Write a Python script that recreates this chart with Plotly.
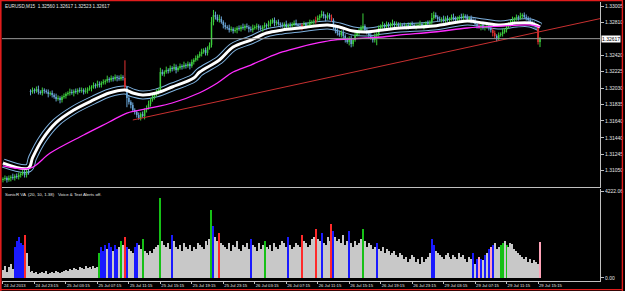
import plotly.graph_objects as go

W, H = 625, 291
BASE = 1.30000
PT = 0.00001

# ---------------- data (prices in points above 1.30000) ----------------
closes_pts = [
    950, 962, 938, 962, 974, 962, 986, 974, 998, 1010,
    1034, 998, 1046, 1022, 1984, 2007, 1995, 2019, 1984, 1972,
    2007, 1995, 1984, 1960, 1972, 1948, 1924, 1901, 1913, 1889,
    1924, 1936, 1960, 1972, 1984, 1972, 1995, 1984, 2007, 1995,
    2007, 1984, 1995, 2019, 2031, 2043, 2067, 2055, 2079, 2067,
    2091, 2103, 2114, 2138, 2126, 2150, 2138, 2162, 2150, 2138,
    2162, 2150, 2043, 1913, 1865, 1829, 1770, 1746, 1710, 1675,
    1722, 1698, 1770, 1794, 1841, 1889, 1924, 1948, 1984, 2007,
    2221, 2197, 2221, 2245, 2233, 2269, 2257, 2280, 2245, 2269,
    2292, 2280, 2304, 2292, 2316, 2292, 2340, 2364, 2387, 2411,
    2435, 2458, 2482, 2447, 2506, 2542, 2815, 2898, 2874, 2839,
    2851, 2815, 2779, 2756, 2744, 2720, 2732, 2708, 2720, 2744,
    2732, 2756, 2744, 2767, 2756, 2732, 2720, 2744, 2756, 2767,
    2744, 2732, 2756, 2779, 2767, 2791, 2815, 2839, 2803, 2815,
    2791, 2779, 2767, 2791, 2756, 2779, 2767, 2791, 2803, 2779,
    2767, 2756, 2779, 2791, 2767, 2779, 2803, 2815, 2815, 2839,
    2862, 2886, 2910, 2886, 2862, 2898, 2874, 2839, 2756, 2720,
    2684, 2661, 2696, 2649, 2601, 2577, 2625, 2554, 2601, 2661,
    2684, 2720, 2744, 2767, 2720, 2696, 2661, 2625, 2601, 2649,
    2672, 2744, 2767, 2779, 2756, 2791, 2767, 2779, 2803, 2779,
    2791, 2767, 2779, 2767, 2756, 2779, 2767, 2791, 2779, 2756,
    2767, 2779, 2791, 2767, 2779, 2803, 2791, 2815, 2862, 2898,
    2874, 2851, 2839, 2851, 2827, 2862, 2839, 2851, 2874, 2862,
    2839, 2851, 2874, 2862, 2886, 2874, 2851, 2862, 2839, 2827,
    2791, 2767, 2756, 2779, 2744, 2756, 2767, 2744, 2720, 2684,
    2649, 2625, 2661, 2672, 2696, 2720, 2756, 2791, 2815, 2839,
    2851, 2874, 2862, 2886, 2898, 2874, 2862, 2839, 2815, 2791,
    2767, 2756, 2577, 2617,
]
# upper / lower shadows in units of 10 points
wick_up = [
    2, 3, 2, 3, 2, 4, 2, 3, 3, 2,  3, 4, 2, 3, 2, 3, 2, 3, 4, 2,
    3, 2, 2, 3, 2, 3, 2, 4, 3, 2,  2, 3, 2, 2, 4, 3, 2, 3, 2, 3,
    3, 2, 4, 2, 3, 2, 3, 2, 4, 3,  2, 3, 2, 4, 2, 3, 2, 3, 2, 3,
    3, 2, 21, 1, 3, 2, 3, 2, 2, 3,  2, 3, 2, 3, 4, 2, 3, 2, 3, 2,
    5, 3, 2, 4, 2, 3, 2, 4, 3, 2,  3, 2, 4, 2, 3, 2, 3, 2, 3, 2,
    3, 4, 2, 3, 2, 3, 6, 6, 4, 3,  5, 3, 2, 3, 2, 4, 3, 2, 3, 2,
    3, 2, 4, 2, 3, 2, 3, 4, 2, 3,  2, 3, 2, 3, 2, 4, 3, 2, 3, 2,
    3, 2, 3, 2, 4, 2, 3, 2, 3, 4,  2, 3, 2, 3, 2, 3, 4, 2, 3, 4,
    3, 2, 4, 3, 2, 3, 2, 3, 2, 3,  2, 3, 2, 3, 2, 3, 2, 3, 2, 4,
    3, 2, 3, 15, 2, 3, 2, 3, 2, 3,  2, 3, 2, 4, 2, 3, 2, 3, 4, 2,
    3, 2, 3, 2, 4, 2, 3, 2, 3, 2,  3, 2, 4, 2, 3, 2, 3, 2, 6, 4,
    3, 2, 3, 2, 4, 2, 3, 2, 3, 4,  2, 3, 2, 4, 3, 2, 3, 2, 3, 2,
    3, 2, 3, 2, 4, 2, 3, 2, 3, 2,  3, 2, 3, 2, 4, 2, 3, 2, 3, 4,
    2, 3, 2, 4, 2, 3, 3, 2, 3, 2,  3, 2, 3, 2,
]
wick_dn = [
    3, 2, 3, 2, 4, 2, 3, 2, 3, 3,  2, 3, 3, 2, 4, 2, 3, 2, 3, 2,
    3, 3, 2, 4, 2, 3, 2, 3, 2, 4,  3, 2, 3, 2, 3, 2, 4, 2, 3, 2,
    2, 3, 2, 3, 2, 4, 2, 3, 2, 3,  3, 2, 3, 2, 3, 2, 3, 2, 4, 2,
    2, 3, 3, 11, 3, 4, 2, 3, 3, 2,  3, 2, 4, 3, 2, 3, 2, 3, 2, 3,
    3, 2, 3, 2, 3, 2, 3, 2, 4, 2,  2, 3, 2, 3, 2, 4, 2, 3, 2, 3,
    2, 3, 2, 3, 3, 2, 3, 4, 3, 2,  3, 2, 4, 3, 2, 3, 2, 3, 2, 4,
    2, 3, 2, 3, 2, 4, 2, 3, 2, 3,  3, 2, 3, 2, 4, 2, 3, 2, 4, 3,
    2, 3, 2, 3, 2, 3, 4, 2, 3, 2,  3, 2, 4, 2, 3, 2, 3, 2, 3, 2,
    2, 3, 2, 3, 4, 2, 3, 2, 3, 4,  3, 2, 3, 4, 3, 2, 4, 4, 3, 2,
    2, 3, 2, 3, 2, 3, 4, 2, 3, 3,  11, 3, 2, 3, 2, 4, 2, 3, 2, 3,
    2, 3, 2, 3, 2, 3, 4, 2, 3, 2,  3, 2, 3, 2, 4, 2, 3, 2, 3, 2,
    2, 3, 2, 3, 2, 4, 2, 3, 2, 3,  3, 2, 4, 2, 3, 2, 3, 2, 4, 3,
    2, 3, 2, 4, 2, 3, 2, 3, 3, 4,  3, 4, 3, 2, 3, 2, 3, 2, 3, 2,
    3, 2, 3, 2, 3, 2, 3, 3, 2, 3,  2, 3, 3, 6,
]
open_overrides = {0: 940, 14: 1995}
candle_color_overrides = {62: "r", 152: "r", 159: "r", 167: "r", 249: "r", 250: "r", 272: "r", 242: "m"}

ema34_bars = [0, 13, 15, 20, 27, 36, 46, 54, 62, 66, 71, 78, 86, 97, 100, 110, 117, 126, 134,
              142, 151, 165, 171, 178, 185, 193, 202, 219, 236, 244, 253, 261, 268, 273]
ema34_pts = [1140, 1081, 1200, 1420, 1620, 1770, 1889, 1972, 2007, 1972, 1948, 1972, 2043, 2150,
             2221, 2364, 2518, 2601, 2684, 2720, 2744, 2779, 2756, 2708, 2696, 2720, 2744, 2767,
             2827, 2803, 2779, 2803, 2803, 2756]
ema89_bars = [0, 14, 24, 41, 54, 63, 75, 86, 100, 109, 117, 126, 134, 142, 151, 160, 168, 176,
              185, 193, 202, 219, 236, 244, 253, 269, 273]
ema89_pts = [1105, 1081, 1259, 1473, 1627, 1734, 1794, 1853, 1975, 2091, 2221, 2304, 2387, 2459,
             2518, 2566, 2601, 2613, 2625, 2637, 2661, 2696, 2744, 2756, 2767, 2779, 2756]

trend_bars = [66, 303.5]
trend_prices = [1.31651, 1.32855]

volume = [
    400, 600, 300, 550, 700, 450, 1500, 1800, 2000, 1700,
    1600, 2100, 1200, 600, 300, 350, 250, 300, 200, 250,
    300, 250, 350, 200, 250, 300, 250, 350, 300, 250,
    300, 350, 400, 350, 450, 400, 500, 450, 400, 550,
    500, 450, 600, 500, 550, 450, 600, 500, 550, 1200,
    1500, 1300, 1600, 1400, 1700, 1500, 1300, 1600, 1400, 1500,
    1800, 1600, 2000, 1500, 1400, 1300, 1200, 1500, 1700, 1600,
    1400, 1900, 1300, 1200, 1100, 1300, 1200, 1400, 1500, 1600,
    3900, 1800, 1600, 1500, 1700, 1400, 2100, 1800, 1500, 1400,
    1600, 1300, 1700, 1500, 1400, 1600, 1300, 1500, 1400, 1700,
    1600, 1500, 1400, 1800, 1600, 1900, 3300, 2500, 2000, 1800,
    2200, 1700, 1600, 1500, 1400, 1700, 1300, 1600, 1500, 1800,
    1400, 1300, 1600, 1500, 1700, 1400, 1900, 1600, 1500, 1300,
    1700, 1400, 1600, 1800, 1500, 1400, 1600, 1300, 1700, 1500,
    1400, 1600, 1800, 1700, 1500, 2000, 1600, 1400, 1500, 1700,
    1600, 1500, 2100, 1800, 1700, 1500, 1600, 1900, 2000, 2400,
    1900, 1800, 2200, 1700, 1600, 2000, 1800, 2600, 2300, 2000,
    1800, 1900, 1700, 2100, 1600, 1800, 2300, 1700, 1500, 1800,
    1600, 1700, 1900, 2400, 1800, 1500, 1700, 1600, 1400, 1500,
    1700, 1400, 1300, 1500, 1200, 1400, 1300, 1100, 1200, 1300,
    1100, 1000, 1200, 1100, 900, 1000, 800, 900, 1100, 1000,
    800, 900, 700, 1000, 800, 900, 1000, 1200, 1900, 1600,
    1300, 1200, 1100, 1000, 900, 1100, 1200, 1000, 900, 1100,
    1000, 900, 1200, 1000, 1100, 900, 800, 1000, 900, 1200,
    700, 900, 1000, 900, 850, 1100, 1200, 1400, 1500, 1600,
    1700, 1400, 1500, 1600, 1700, 1800, 1600, 1500, 1700, 1650,
    1400, 1300, 1200, 1100, 1000, 900, 1000, 800, 900, 750,
    850, 800, 700, 1750,
]
volume_colors = (
    "wwwwwwbbbb" "brwwwwwwww" "wwwwwwwwww" "wwwwwwwwww" "wwwwwwwwwg"
    "bbbwbbwbbw" "gwrbwwwbbw" "wgwwwwwwww" "gwwwwwbwww" "wwwwwwwwww"
    "wwwwwwgbww" "rwwwwwwwww" "wwwwwwbwww" "wwwgwwwwww" "wwwwwbwwww"
    "wwrwwwwwwr" "wwbwwwwrbw" "wwwwwwbwww" "wwwgwwwwww" "bwwwwwwwww"
    "wwwwwwwwww" "wwwwwwwwbb" "wwwwwwwwww" "wwwwwwwwwb" "wbmbwbwbmb"
    "wwwggwgwww" "wwwwwwwwww" "wwwm"
)

time_labels = ["24 Jul 2013", "24 Jul 23:15", "25 Jul 03:15", "25 Jul 07:15", "25 Jul 11:15",
               "25 Jul 15:15", "25 Jul 19:15", "25 Jul 23:15", "26 Jul 03:15", "26 Jul 07:15",
               "26 Jul 11:15", "26 Jul 15:15", "26 Jul 19:15", "26 Jul 23:15", "29 Jul 03:15",
               "29 Jul 07:15", "29 Jul 11:15", "29 Jul 15:15"]
time_label_bars = [0, 16, 32, 48, 64, 80, 96, 112, 128, 144, 160, 176, 192, 208, 224, 240, 256, 272]
price_ticks = [1.33005, 1.32810, 1.32420, 1.32225, 1.32030, 1.31835, 1.31640,
               1.31440, 1.31245, 1.31050, 1.30855]
last_price = 1.32617
vol_ticks = [4222.06, 0.0]
vol_tick_text = ["4222.06", "0.00"]
title_text = "EURUSD,M15  1.32560 1.32617 1.32523 1.32617"
ind_text = "SonicR VA  (20, 10, 1.38)   Voice & Text Alerts off."

# ---------------- derived OHLC ----------------
n = len(closes_pts)
closes = [BASE + c * PT for c in closes_pts]
opens = []
for i in range(n):
    if i in open_overrides:
        opens.append(BASE + open_overrides[i] * PT)
    else:
        opens.append(closes[i - 1])
highs = [max(opens[i], closes[i]) + wick_up[i] * 10 * PT for i in range(n)]
lows = [min(opens[i], closes[i]) - wick_dn[i] * 10 * PT for i in range(n)]

CANDLE_COL = {"g": "#3ccf3c", "b": "#6aa6d8", "r": "#e23232", "m": "#ff5fd0"}
VOL_COL = {"w": "#c8c8c8", "b": "#1a1aff", "g": "#16c016", "r": "#ff2a2a", "m": "#ffa3b8"}
cat = []
for i in range(n):
    if i in candle_color_overrides:
        cat.append(candle_color_overrides[i])
    else:
        cat.append("g" if closes[i] >= opens[i] else "b")

GRAY = "#c0c0c0"
TXT = "#e6e6e6"
FONT = "Liberation Sans"

fig = go.Figure()

ema34 = [BASE + v * PT for v in ema34_pts]
ema89 = [BASE + v * PT for v in ema89_pts]

# band around the fast MA
fig.add_trace(go.Scatter(x=ema34_bars, y=ema34, mode="lines", line=dict(color="#7fb2e0", width=9, shape="spline"),
                         hoverinfo="skip", showlegend=False))
fig.add_trace(go.Scatter(x=ema34_bars, y=ema34, mode="lines", line=dict(color="black", width=7, shape="spline"),
                         hoverinfo="skip", showlegend=False))

# candles
for key, col in CANDLE_COL.items():
    idx = [i for i in range(n) if cat[i] == key]
    if not idx:
        continue
    wx, wy, bx, by = [], [], [], []
    for i in idx:
        wx += [i, i, None]
        wy += [lows[i], highs[i], None]
        bx += [i, i, None]
        by += [opens[i], closes[i], None]
    fig.add_trace(go.Scatter(x=wx, y=wy, mode="lines", line=dict(color=col, width=1),
                             hoverinfo="skip", showlegend=False, connectgaps=False))
    fig.add_trace(go.Scatter(x=bx, y=by, mode="lines", line=dict(color=col, width=1.5),
                             hoverinfo="skip", showlegend=False, connectgaps=False))

fig.add_trace(go.Scatter(x=ema34_bars, y=ema34, mode="lines", line=dict(color="white", width=3, shape="spline"),
                         hoverinfo="skip", showlegend=False))
fig.add_trace(go.Scatter(x=ema89_bars, y=ema89, mode="lines", line=dict(color="#ff2cff", width=1.3, shape="spline"),
                         hoverinfo="skip", showlegend=False))
fig.add_trace(go.Scatter(x=trend_bars, y=trend_prices, mode="lines", line=dict(color="#c83030", width=1),
                         hoverinfo="skip", showlegend=False))

# volume panel
fig.add_trace(go.Bar(x=list(range(n)), y=volume, marker=dict(color=[VOL_COL[c] for c in volume_colors], line=dict(width=0)),
                     width=0.55, xaxis="x2", yaxis="y2", hoverinfo="skip", showlegend=False))

XD = [2 / W, 600 / W]
XR = [-0.5, 303.5]
axis_common = dict(showgrid=False, zeroline=False, fixedrange=True, automargin=False)
fig.update_layout(
    width=W, height=H, margin=dict(l=0, r=0, t=0, b=0, autoexpand=False),
    paper_bgcolor="black", plot_bgcolor="black",
    bargap=0, showlegend=False,
    font=dict(family=FONT, color=TXT, size=5),
    xaxis=dict(domain=XD, range=XR, anchor="y", showticklabels=False, ticks="",
               showline=True, linecolor=GRAY, linewidth=1, **axis_common),
    yaxis=dict(domain=[1 - 187 / H, 1 - 2 / H], range=[1.308554, 1.330525], side="right", anchor="x",
               tickmode="array", tickvals=price_ticks, ticktext=[f"{v:.5f}" for v in price_ticks],
               ticks="outside", ticklen=3, tickcolor=GRAY, tickfont=dict(size=5, color=TXT, family=FONT),
               showline=True, linecolor=GRAY, linewidth=1, **axis_common),
    xaxis2=dict(domain=XD, range=XR, anchor="y2", tickmode="array", tickvals=time_label_bars,
                ticktext=time_labels, ticks="outside", ticklen=2, tickcolor=GRAY, tickangle=0,
                ticklabelposition="outside right", tickfont=dict(size=4.2, color=TXT, family=FONT),
                showline=True, linecolor=GRAY, linewidth=1, **axis_common),
    yaxis2=dict(domain=[1 - 281 / H, 1 - 189 / H], range=[-146, 4319], side="right", anchor="x2",
                tickmode="array", tickvals=vol_ticks, ticktext=vol_tick_text, ticks="outside", ticklen=3,
                tickcolor=GRAY, tickfont=dict(size=5, color=TXT, family=FONT),
                showline=True, linecolor=GRAY, linewidth=1, **axis_common),
)

def px(x):
    return x / W

def py(y):
    return 1 - y / H

shapes = [
    dict(type="line", xref="x", yref="y", x0=XR[0], x1=XR[1], y0=last_price, y1=last_price,
         line=dict(color="#9a9a9a", width=1)),
    # red window frame
    dict(type="line", xref="paper", yref="paper", x0=px(0.8), x1=px(0.8), y0=0, y1=1, line=dict(color="#e01c1c", width=1.6)),
    dict(type="line", xref="paper", yref="paper", x0=0, x1=px(623), y0=py(0.6), y1=py(0.6), line=dict(color="#e01c1c", width=1.4)),
    dict(type="line", xref="paper", yref="paper", x0=px(622.4), x1=px(622.4), y0=0, y1=1, line=dict(color="#e01c1c", width=1.4)),
    dict(type="line", xref="paper", yref="paper", x0=0, x1=px(623), y0=py(289.6), y1=py(289.6), line=dict(color="#e01c1c", width=1.4)),
]
fig.update_layout(shapes=shapes)

fig.update_layout(annotations=[
    dict(xref="paper", yref="paper", x=px(3), y=py(6), text=title_text, showarrow=False,
         xanchor="left", yanchor="middle", font=dict(size=4.7, color=TXT, family=FONT)),
    dict(xref="paper", yref="paper", x=px(3), y=py(194), text=ind_text, showarrow=False,
         xanchor="left", yanchor="middle", font=dict(size=4.4, color=TXT, family=FONT)),
    dict(xref="paper", yref="y", x=px(600.5), y=last_price, text=f"{last_price:.5f}", showarrow=False,
         xanchor="left", yanchor="middle", bgcolor="white", borderpad=0,
         font=dict(size=5, color="black", family=FONT)),
])

fig.write_html("out.html")
